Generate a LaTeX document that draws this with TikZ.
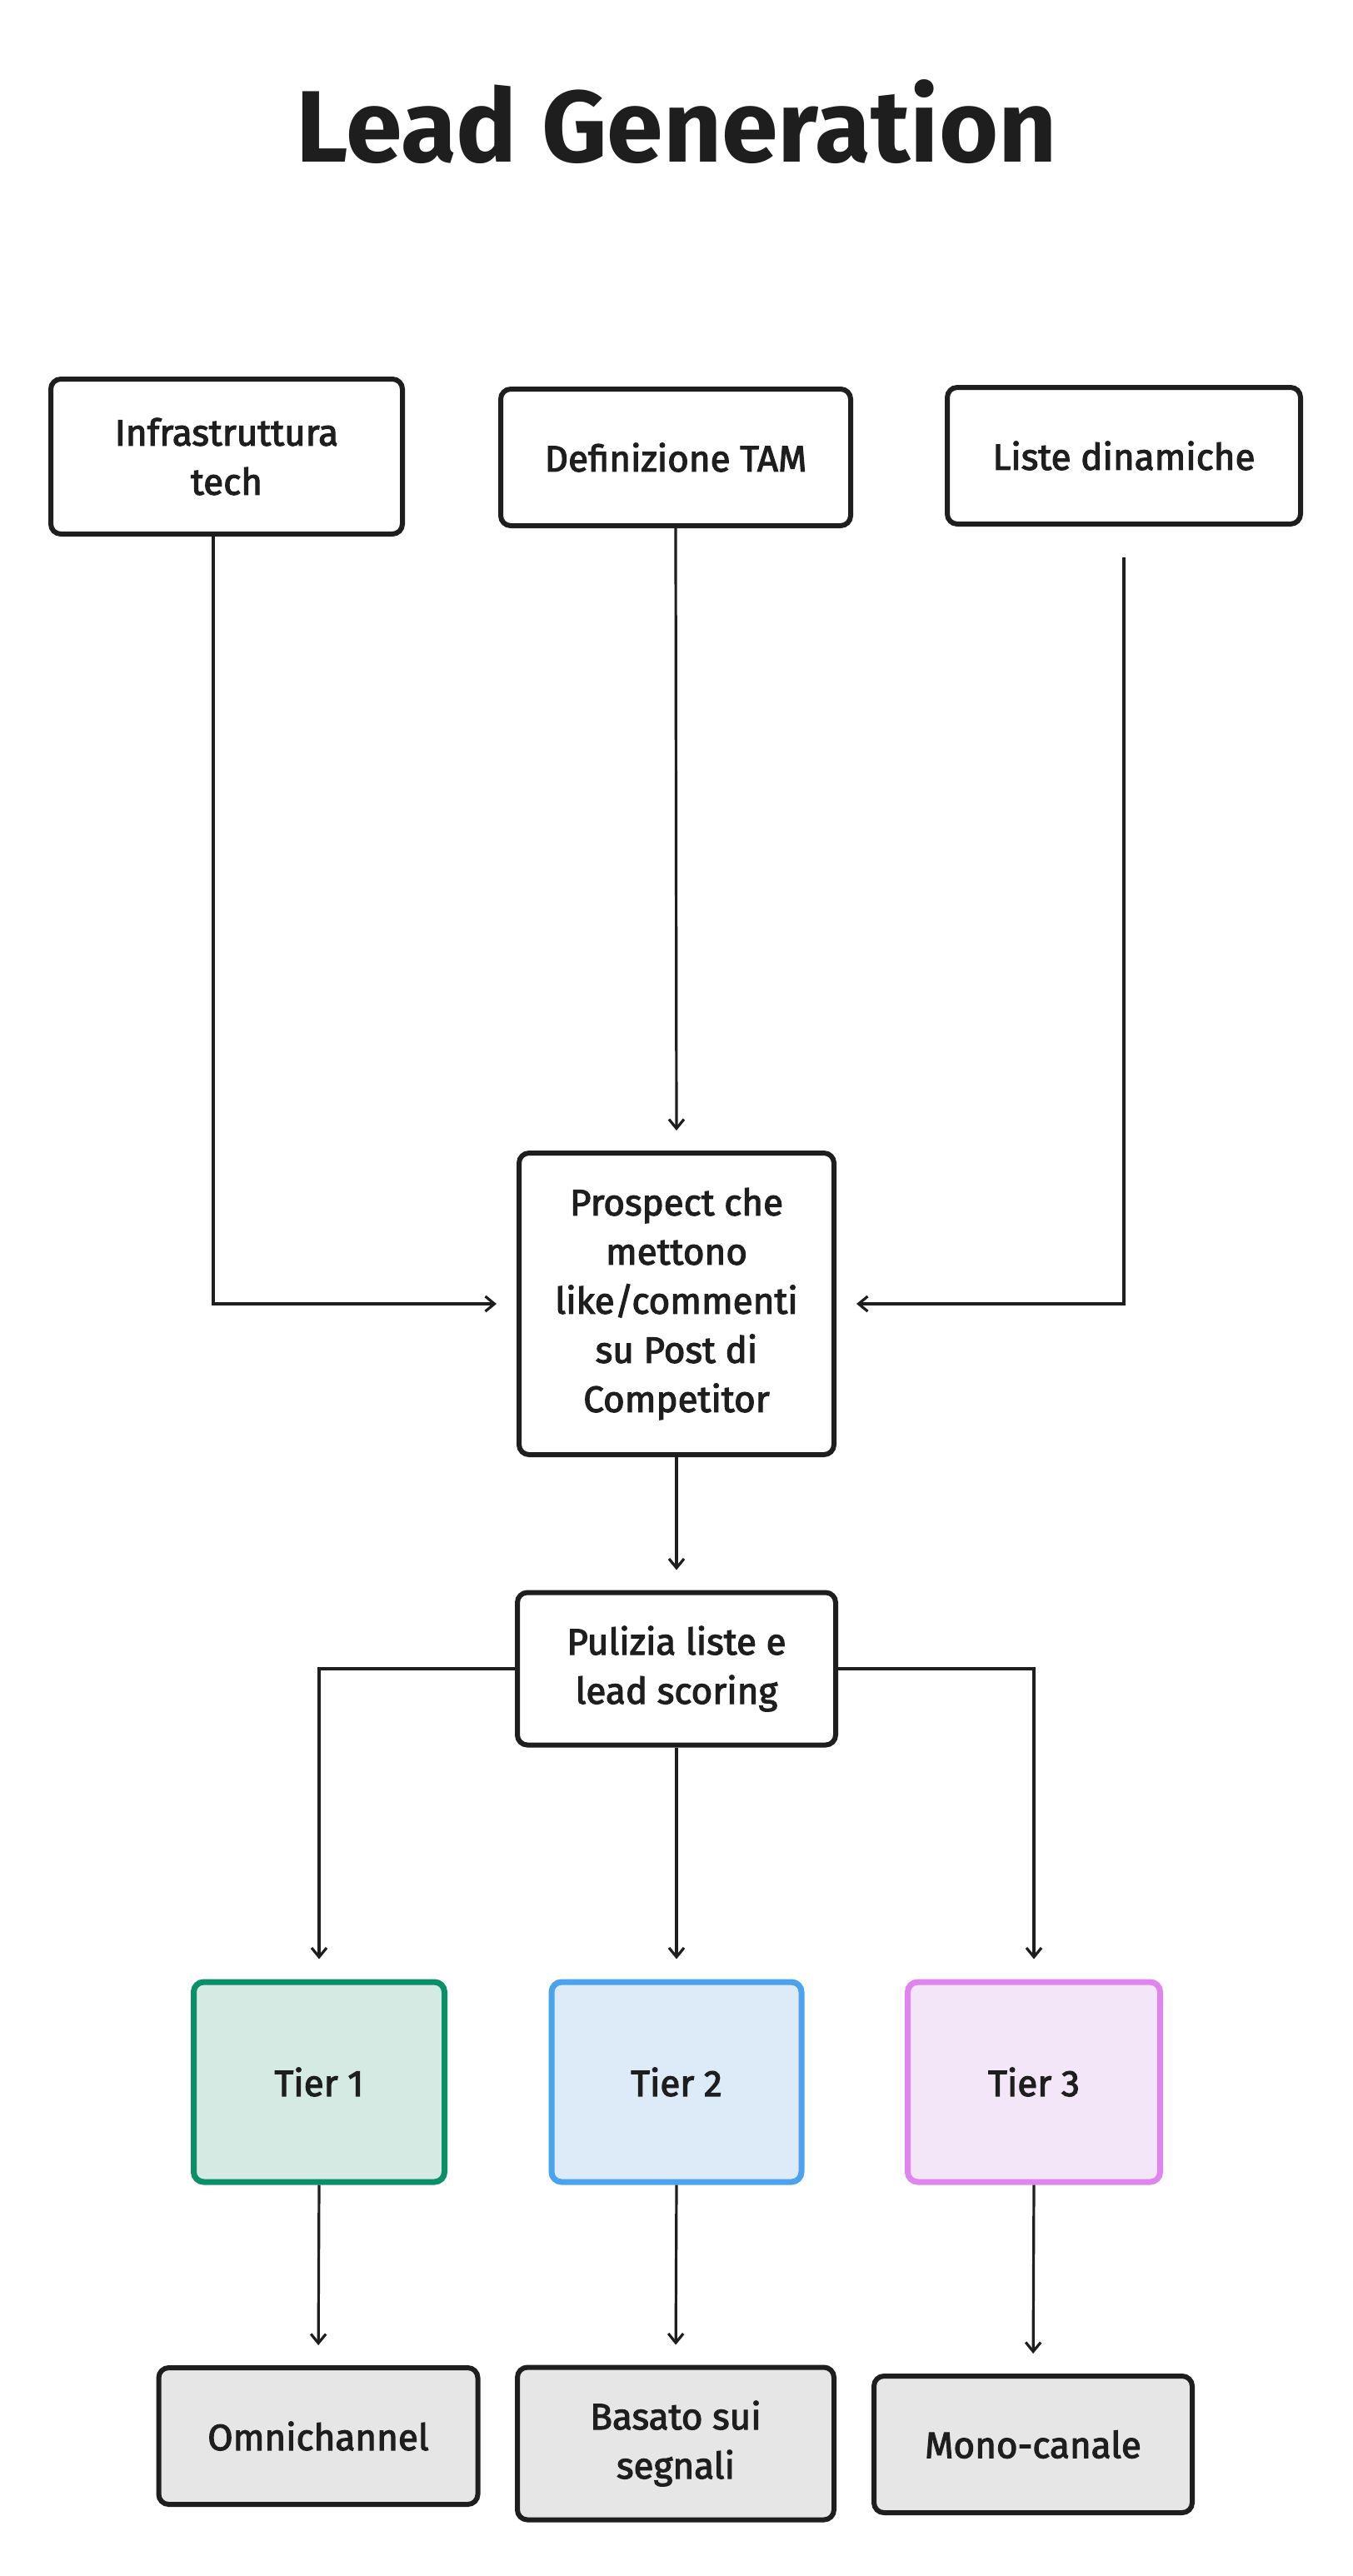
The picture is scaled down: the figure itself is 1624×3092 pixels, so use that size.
\documentclass[tikz,border=0pt]{standalone}
\usepackage{fontspec}
\setmainfont{Fira Sans}
\newfontfamily\nodefont{Fira Sans}[FakeBold=2.6]
\usetikzlibrary{arrows.meta}
\definecolor{ink}{HTML}{1E1E1E}
\definecolor{greenB}{HTML}{0A9068}
\definecolor{greenF}{HTML}{D4EAE3}
\definecolor{blueB}{HTML}{4BA3F0}
\definecolor{blueF}{HTML}{DDEBF8}
\definecolor{pinkB}{HTML}{E085F0}
\definecolor{pinkF}{HTML}{F4E6F9}
\definecolor{grayF}{HTML}{E6E6E6}
\tikzset{
  box/.style={draw=ink, line width=6pt, rounded corners=12pt, fill=white, align=center,
    inner sep=0pt, text=ink, font=\nodefont\fontsize{44}{59}\selectfont},
  tierbox/.style={box, line width=7pt},
  outbox/.style={box, fill=grayF},
  conn/.style={draw=ink, line width=3.2pt, -{Straight Barb[length=11pt,width=18pt,line width=3.2pt]}, shorten >=24pt},
}
\begin{document}
\begin{tikzpicture}[x=1pt,y=-1pt]
\fill[white] (0,0) rectangle (1624,3092);
\useasboundingbox (0,0) rectangle (1624,3092);
\node[font=\bfseries\fontsize{122}{140}\selectfont, text=ink] (title) at (812,146) {Lead Generation};

\node[box, minimum width=422pt, minimum height=186pt] (infra) at (272,548) {Infrastruttura\\tech};
\node[box, minimum width=420pt, minimum height=164pt] (tam) at (811,549) {Definizione TAM};
\node[box, minimum width=424pt, minimum height=164pt] (liste) at (1349,547) {Liste dinamiche};
\node[box, minimum width=378pt, minimum height=362pt] (prospect) at (812,1565) {Prospect che\\mettono\\like/commenti\\su Post di\\Competitor};
\node[box, minimum width=382pt, minimum height=183pt] (pulizia) at (812,2003) {Pulizia liste e\\lead scoring};

\node[tierbox, draw=greenB, fill=greenF, minimum width=301pt, minimum height=240pt] (t1) at (383,2499) {Tier 1};
\node[tierbox, draw=blueB, fill=blueF, minimum width=300pt, minimum height=240pt] (t2) at (812,2499) {Tier 2};
\node[tierbox, draw=pinkB, fill=pinkF, minimum width=303pt, minimum height=240pt] (t3) at (1241,2499) {Tier 3};

\node[outbox, minimum width=383pt, minimum height=164pt] (omni) at (382,2924) {Omnichannel};
\node[outbox, minimum width=380pt, minimum height=183pt] (basato) at (811,2933) {Basato sui\\segnali};
\node[outbox, minimum width=382pt, minimum height=164pt] (mono) at (1240,2934) {Mono-canale};

\draw[conn] ([xshift=-16pt]infra.south) |- (prospect.west);
\draw[conn] (tam.south) -- (prospect.north);
\draw[conn, shorten <=37pt] (liste.south) |- (prospect.east);
\draw[conn] (prospect.south) -- (pulizia.north);
\draw[conn] (pulizia.west) -| (t1.north);
\draw[conn] (pulizia.south) -- (t2.north);
\draw[conn] (pulizia.east) -| (t3.north);
\draw[conn] (t1.south) -- (omni.north);
\draw[conn] (t2.south) -- (basato.north);
\draw[conn] (t3.south) -- (mono.north);
\end{tikzpicture}
\end{document}
